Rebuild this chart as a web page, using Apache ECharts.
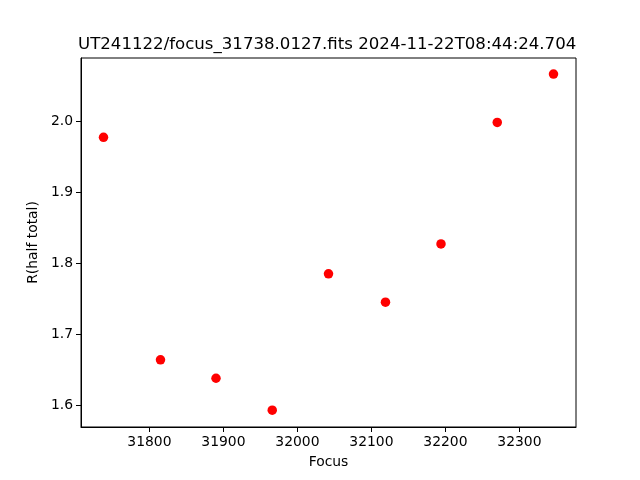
<!DOCTYPE html>
<html>
<head>
<meta charset="utf-8">
<script src="https://cdn.jsdelivr.net/npm/echarts@6/dist/echarts.min.js"></script>
<style>html,body{margin:0;padding:0;background:#fff}#c{width:640px;height:480px}</style>
</head>
<body>
<div id="c"></div>
<script>
const titleText = "UT241122/focus_31738.0127.fits 2024-11-22T08:44:24.704";
const focusValues = [31738, 31815, 31890, 31966, 32042, 32119, 32194, 32270, 32346];
const rValues = [1.977, 1.664, 1.638, 1.593, 1.785, 1.745, 1.827, 1.998, 2.066];
const xTicks = [31800, 31900, 32000, 32100, 32200, 32300];
const yTicks = [1.6, 1.7, 1.8, 1.9, 2.0];

const chart = echarts.init(document.getElementById('c'), null, {renderer: 'canvas'});
const font = 'DejaVu Sans';
const data = focusValues.map((f, i) => [f, rValues[i]]);
const xMin = 31707.6, xMax = 32376.4, yMin = 1.5694, yMax = 2.0886;
chart.setOption({
  animation: false,
  backgroundColor: '#fff',
  title: {
    text: titleText,
    left: 78,
    top: 36,
    padding: 0,
    textStyle: {fontFamily: font, fontSize: 16.6, fontWeight: 'normal', color: '#000'}
  },
  grid: {left: 81, right: 64, top: 58, bottom: 53, show: true, borderColor: '#000', borderWidth: 1, backgroundColor: 'transparent'},
  xAxis: {
    type: 'value', min: xMin, max: xMax,
    name: 'Focus', nameLocation: 'middle', nameGap: 28,
    nameTextStyle: {fontFamily: font, fontSize: 13.9, color: '#000'},
    axisLine: {show: true, onZero: false, lineStyle: {color: '#000', width: 1}},
    axisTick: {show: true, inside: false, length: 5, lineStyle: {color: '#000'}, customValues: xTicks},
    axisLabel: {fontFamily: font, fontSize: 13.9, color: '#000', margin: 8, customValues: xTicks, formatter: v => String(Math.round(v))},
    splitLine: {show: false}
  },
  yAxis: {
    type: 'value', min: yMin, max: yMax,
    name: 'R(half total)', nameLocation: 'middle', nameGap: 37, nameRotate: 90,
    nameTextStyle: {fontFamily: font, fontSize: 13.9, color: '#000'},
    axisLine: {show: true, onZero: false, lineStyle: {color: '#000', width: 1}},
    axisTick: {show: true, inside: false, length: 5, lineStyle: {color: '#000'}, customValues: yTicks},
    axisLabel: {fontFamily: font, fontSize: 13.9, color: '#000', margin: 8, customValues: yTicks, formatter: v => v.toFixed(1)},
    splitLine: {show: false}
  },
  series: [{
    type: 'scatter',
    data: data,
    symbol: 'circle',
    symbolSize: 9.5,
    itemStyle: {color: '#ff0000', opacity: 1},
    emphasis: {disabled: true}
  }]
});
</script>
</body>
</html>
